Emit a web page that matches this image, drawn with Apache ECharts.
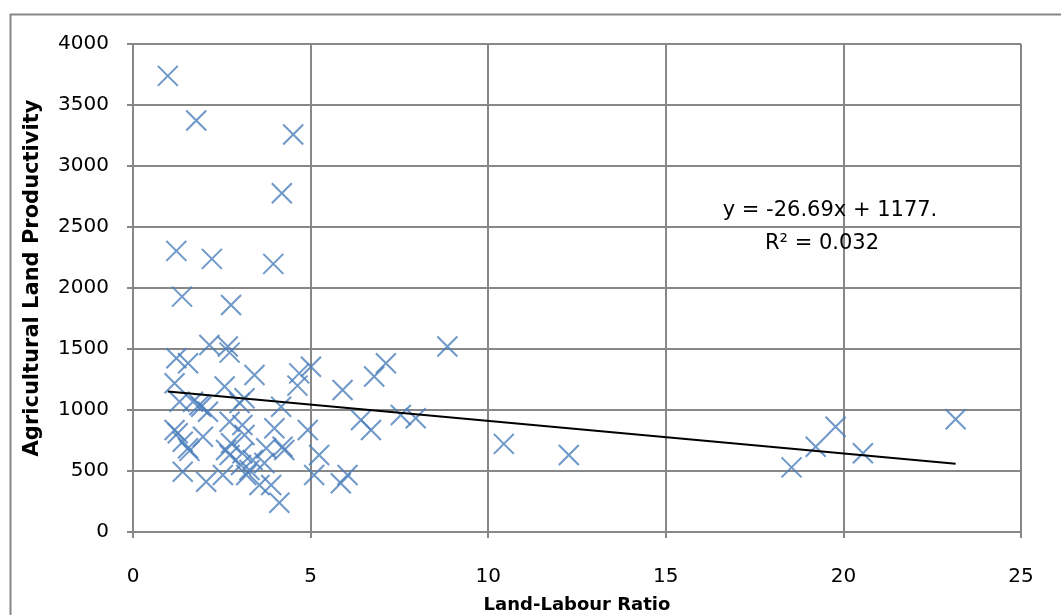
<!DOCTYPE html>
<html>
<head>
<meta charset="utf-8">
<script src="https://cdn.jsdelivr.net/npm/echarts@6/dist/echarts.min.js"></script>
<style>html,body{margin:0;padding:0;background:#fff;}#c{width:1061px;height:615px;}</style>
</head>
<body>
<div id="c"></div>
<script>
// Land-labour ratio (x) and agricultural land productivity (y)
const xValues = [0.98,1.78,4.51,4.19,1.22,2.22,3.95,1.38,2.76,
  2.15,2.67,2.72,1.22,1.55,3.42,5.01,4.68,4.63,8.85,7.12,6.79,5.90,
  1.17,2.58,3.14,3.00,1.31,1.69,1.87,2.11,1.92,4.17,
  7.54,7.96,6.42,6.70,
  1.17,1.26,2.72,3.08,3.98,4.92,1.97,3.14,
  1.40,1.55,1.59,2.76,2.62,3.75,4.21,4.26,5.24,
  2.72,3.08,3.37,3.04,3.28,3.70,2.53,3.19,1.40,2.06,3.56,3.89,4.12,5.10,6.04,5.85,
  10.44,12.27,18.54,19.22,19.78,20.55,23.16];
const yValues = [3739,3373,3258,2777,2304,2239,2198,1929,1861,
  1533,1520,1470,1424,1383,1287,1355,1300,1200,1520,1383,1274,1164,
  1219,1193,1096,1058,1068,1068,1041,986,1027,1027,
  959,932,918,836,
  836,809,904,877,850,836,781,795,
  740,686,665,727,672,686,699,672,631,
  631,646,590,549,508,566,467,467,494,412,385,385,240,467,467,399,
  722,631,530,699,863,645,924];
// Linear trendline endpoints as drawn in the reference
const trendX = [0.98, 23.16];
const trendY = [1151, 559];
const xTicks = [0,5,10,15,20,25];
const yTicks = [0,500,1000,1500,2000,2500,3000,3500,4000];
const equationText = 'y = -26.69x + 1177.';
const r2Text = 'R² = 0.032';

const points = xValues.map((x,i)=>[x,yValues[i]]);
const trend = trendX.map((x,i)=>[x,trendY[i]]);

const chart = echarts.init(document.getElementById('c'), null, {renderer:'canvas'});
const gridColor = '#878787';
const font = 'DejaVu Sans, Verdana, sans-serif';
chart.setOption({
  animation:false,
  backgroundColor:'#fff',
  grid:{left:133, top:44, right:40, bottom:83, containLabel:false, outerBoundsMode:'none'},
  xAxis:{
    type:'value', min:xTicks[0], max:xTicks[xTicks.length-1], interval:5,
    name:'Land-Labour Ratio', nameLocation:'middle', nameGap:64,
    nameTextStyle:{fontFamily:font, fontWeight:'bold', fontSize:18, color:'#000'},
    axisLine:{show:true, onZero:false, lineStyle:{color:gridColor, width:2}},
    axisTick:{show:true, length:6, lineStyle:{color:gridColor, width:2}},
    axisLabel:{fontFamily:font, fontSize:20, color:'#000', margin:35, formatter:v=>String(v)},
    splitLine:{show:true, lineStyle:{color:gridColor, width:2}}
  },
  yAxis:{
    type:'value', min:yTicks[0], max:yTicks[yTicks.length-1], interval:500,
    name:'Agricultural Land Productivity', nameLocation:'middle', nameGap:90,
    nameTextStyle:{fontFamily:font, fontWeight:'bold', fontSize:21, color:'#000', padding:[0,0,0,20]},
    axisLine:{show:true, lineStyle:{color:gridColor, width:2}},
    axisTick:{show:true, length:6, lineStyle:{color:gridColor, width:2}},
    axisLabel:{fontFamily:font, fontSize:20, color:'#000', margin:24, formatter:v=>String(v)},
    splitLine:{show:true, lineStyle:{color:gridColor, width:2}}
  },
  series:[
    {
      type:'scatter', data:points,
      symbol:'path://M0,0L10,10M10,0L0,10', symbolSize:20,
      itemStyle:{color:'rgba(0,0,0,0)', borderColor:'#4a7ebb', borderWidth:2},
      z:3
    },
    {
      type:'line', data:trend, symbol:'none',
      lineStyle:{color:'#000', width:2}, z:4, silent:true
    }
  ],
  graphic:[
    {type:'rect', left:8, top:12, shape:{width:1100, height:640}, style:{fill:'none', stroke:'#878787', lineWidth:2}, silent:true},
    {type:'text', x:830, y:211, style:{text:equationText, font:'21px '+font, fill:'#000', textAlign:'center', textVerticalAlign:'middle'}, z:10},
    {type:'text', x:822, y:244, style:{text:r2Text, font:'21px '+font, fill:'#000', textAlign:'center', textVerticalAlign:'middle'}, z:10}
  ]
});
</script>
</body>
</html>
